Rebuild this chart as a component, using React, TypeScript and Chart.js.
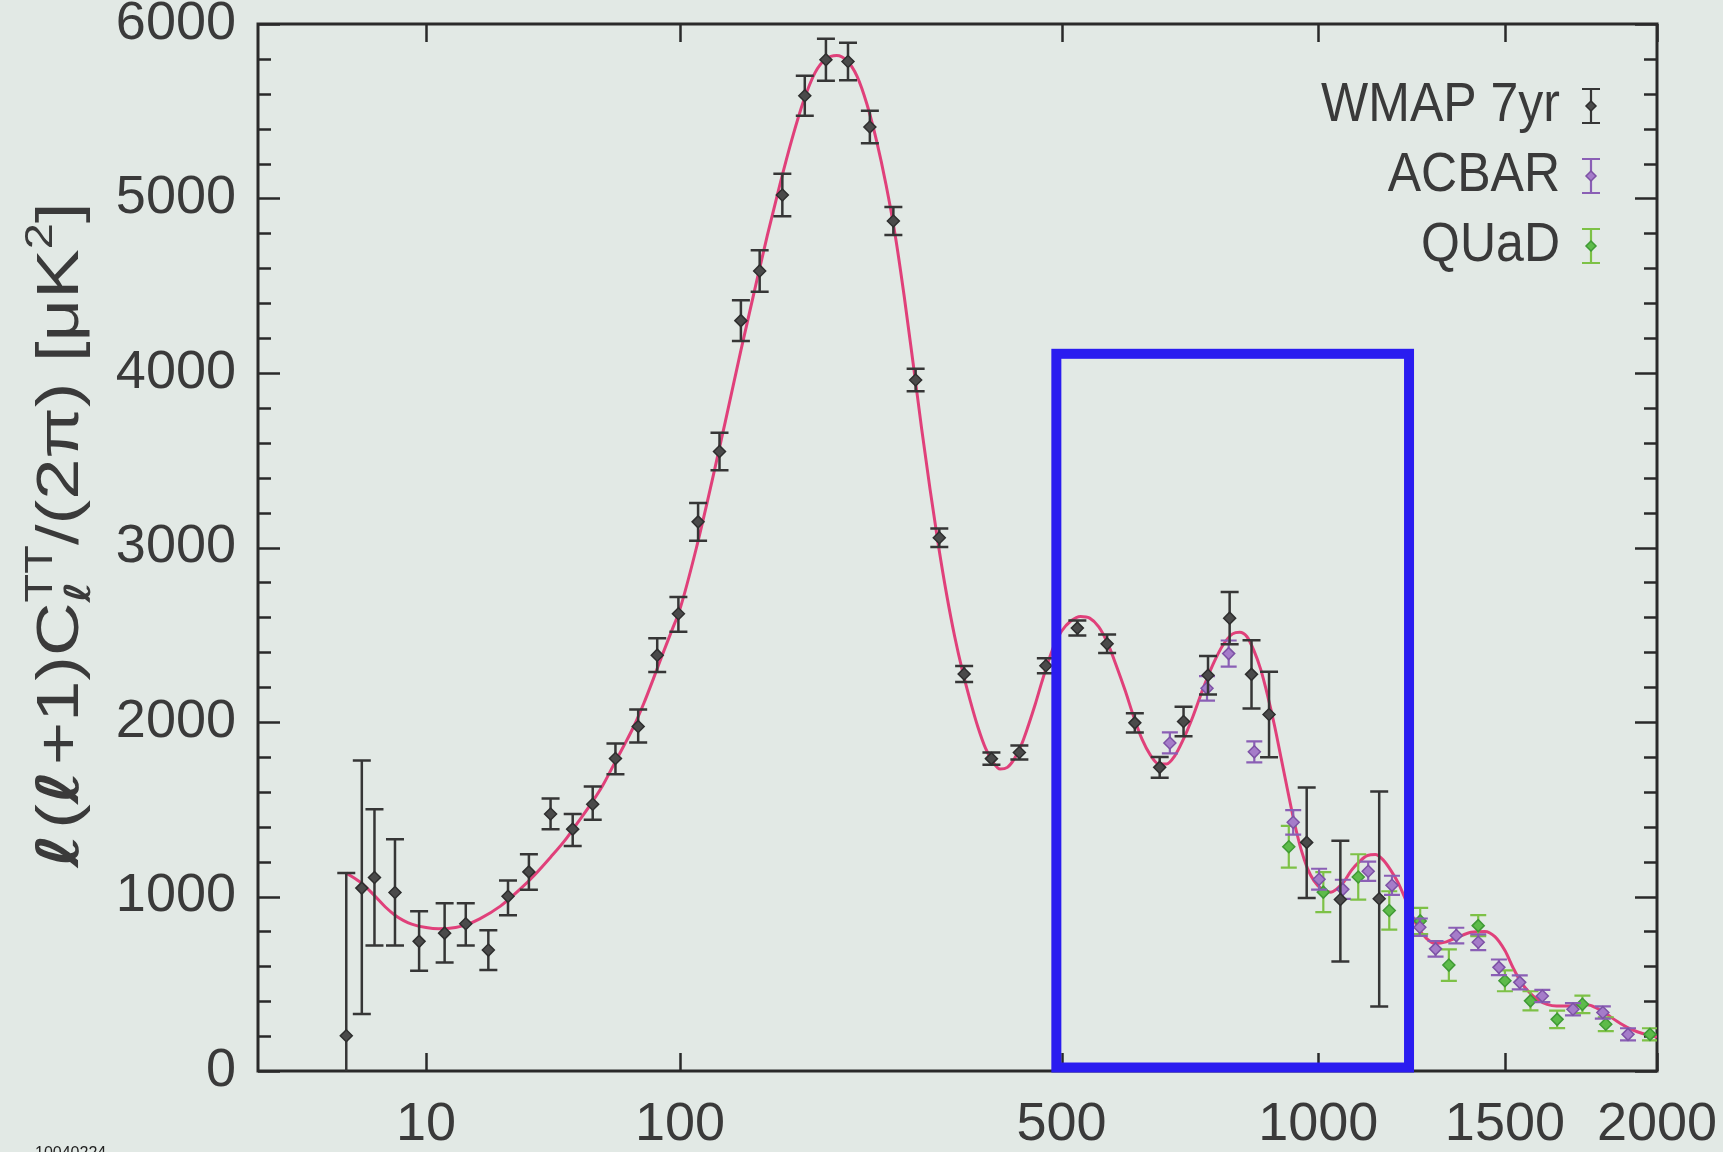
import React, { useEffect, useRef } from 'react';
import { Chart, registerables, LinearScale } from 'chart.js';

Chart.register(...registerables);

// ---------------- data ----------------
const xTickValues = [10, 100, 500, 1000, 1500, 2000];
const yTickValues = [0, 1000, 2000, 3000, 4000, 5000, 6000];
const yMinorStep = 200;

// WMAP 7yr binned points: multipole, D_l, error below, error above
const wmapL = [2, 3, 4, 6, 9, 13, 17, 22, 27, 33, 40, 48, 56, 66, 77, 87, 99, 111, 125, 140, 154, 172, 191, 210, 231, 253, 278, 303, 331, 362, 398, 437, 476, 525, 574, 622, 667, 712, 760, 804, 850, 888, 973, 1053, 1150];
const wmapD = [202, 1048, 1109, 1023, 743, 790, 844, 693, 1001, 1141, 1473, 1386, 1529, 1791, 1974, 2383, 2620, 3147, 3550, 4300, 4585, 5020, 5589, 5795, 5785, 5410, 4871, 3960, 3056, 2275, 1790, 1825, 2322, 2538, 2448, 1995, 1740, 2003, 2268, 2595, 2273, 2043, 1310, 983, 987];
const wmapErrHi = [933, 732, 391, 305, 172, 172, 118, 114, 90, 101, 88, 87, 101, 86, 97, 97, 97, 108, 108, 117, 119, 122, 115, 120, 108, 93, 80, 65, 53, 46, 35, 40, 43, 43, 53, 55, 60, 84, 110, 150, 195, 245, 315, 337, 615];
const wmapErrLo = [400, 721, 390, 304, 168, 168, 125, 114, 108, 103, 87, 96, 89, 90, 92, 97, 103, 108, 108, 117, 119, 122, 115, 120, 108, 93, 80, 65, 53, 46, 35, 40, 43, 43, 53, 55, 60, 84, 110, 150, 195, 245, 319, 355, 617];

// ACBAR
const acbarL = [686, 758, 802, 856, 942, 1002, 1059, 1122, 1183, 1257, 1300, 1358, 1421, 1482, 1545, 1615, 1713, 1812, 1898];
const acbarD = [1880, 2193, 2392, 1829, 1425, 1099, 1041, 1145, 1064, 824, 700, 776, 738, 594, 508, 430, 354, 335, 210];
const acbarErr = [60, 70, 75, 60, 70, 60, 55, 55, 55, 50, 45, 45, 45, 45, 40, 35, 35, 35, 35];

// QUaD
const quadL = [932, 1012, 1097, 1176, 1258, 1337, 1421, 1500, 1578, 1662, 1744, 1822, 1975];
const quadD = [1285, 1025, 1112, 920, 860, 607, 833, 517, 402, 296, 382, 268, 210];
const quadErr = [120, 115, 130, 110, 75, 90, 60, 60, 55, 50, 50, 40, 35];

// best-fit model curve
const theoryL = [2, 3, 4, 5, 6, 7, 8, 10, 12, 15, 17, 20, 25, 30, 35, 40, 45, 50, 55, 60, 65, 70, 75, 80, 85, 90, 95, 100, 110, 120, 130, 140, 150, 160, 170, 180, 190, 200, 210, 220, 230, 240, 250, 260, 270, 280, 290, 300, 310, 320, 330, 340, 350, 360, 370, 380, 390, 400, 410, 420, 430, 440, 450, 460, 470, 480, 490, 500, 515, 530, 545, 560, 575, 590, 605, 620, 635, 650, 665, 680, 695, 710, 730, 750, 770, 790, 810, 825, 840, 855, 870, 885, 900, 915, 930, 945, 960, 975, 990, 1010, 1030, 1060, 1080, 1100, 1120, 1140, 1160, 1180, 1200, 1225, 1250, 1275, 1300, 1330, 1360, 1400, 1440, 1470, 1500, 1525, 1550, 1575, 1600, 1630, 1660, 1690, 1720, 1760, 1790, 1825, 1860, 1895, 1930, 1970, 2000];
const theoryD = [1135, 1075, 1005, 940, 893, 862, 842, 822, 815, 822, 837, 872, 945, 1035, 1128, 1225, 1320, 1425, 1525, 1630, 1750, 1865, 1980, 2110, 2250, 2390, 2520, 2650, 3000, 3380, 3760, 4130, 4470, 4790, 5080, 5340, 5560, 5720, 5800, 5820, 5790, 5700, 5540, 5330, 5080, 4790, 4440, 4060, 3680, 3330, 3010, 2730, 2490, 2290, 2120, 1970, 1850, 1770, 1730, 1740, 1790, 1870, 1980, 2100, 2230, 2350, 2450, 2520, 2580, 2605, 2595, 2545, 2450, 2320, 2180, 2030, 1900, 1810, 1760, 1760, 1805, 1890, 2030, 2190, 2330, 2440, 2505, 2515, 2490, 2410, 2300, 2150, 1980, 1790, 1600, 1420, 1270, 1160, 1090, 1040, 1025, 1080, 1150, 1200, 1235, 1240, 1210, 1150, 1075, 950, 830, 760, 730, 740, 765, 795, 800, 770, 690, 590, 505, 450, 410, 382, 372, 372, 376, 380, 362, 325, 285, 250, 225, 205, 195];

// highlighted region (multipole range, D_l range)
const boxL = [492, 1228];
const boxD = [20, 4110];

const legendLabels = ['WMAP 7yr', 'ACBAR', 'QUaD'];
const footnote = '10040224';

// ---------------- styles ----------------
const W = 1723;
const H = 1152;
const X_POWER = 0.4;
const BG = '#e2e9e5';
const TEXT = '#3a3a3a';
const AXIS = '#2a2a2a';
const CURVE = '#e0407a';
const BOX = '#2a1cf0';
const WMAP_C = { fill: '#4a4a4a', border: '#2e2e2e', bar: '#363636' };
const ACBAR_C = { fill: '#a57cc9', border: '#7d52a5', bar: '#8a5fb5' };
const QUAD_C = { fill: '#5dbb4a', border: '#3f9a35', bar: '#7dc146' };
const FONT = '"Liberation Sans", Arial, Helvetica, sans-serif';

// power-law (l^0.4) axis
class PowerScale extends LinearScale {
  static id = 'power';
  static defaults = {};
  _pw(v: number) {
    return Math.pow(Math.max(v, 0), X_POWER);
  }
  getPixelForValue(value: number) {
    if (value === null || value === undefined || isNaN(value)) return NaN;
    const a = this._pw(this.min);
    const b = this._pw(this.max);
    return this.getPixelForDecimal((this._pw(value) - a) / (b - a));
  }
  getValueForPixel(pixel: number) {
    const a = this._pw(this.min);
    const b = this._pw(this.max);
    const d = this.getDecimalForPixel(pixel);
    return Math.pow(a + d * (b - a), 1 / X_POWER);
  }
}
Chart.register(PowerScale as any);

function pts(xs: number[], ys: number[]) {
  return xs.map((x, i) => ({ x, y: ys[i] }));
}

function diamond(ctx: CanvasRenderingContext2D, x: number, y: number, r: number, fill: string, stroke: string) {
  ctx.beginPath();
  ctx.moveTo(x, y - r);
  ctx.lineTo(x + r, y);
  ctx.lineTo(x, y + r);
  ctx.lineTo(x - r, y);
  ctx.closePath();
  ctx.fillStyle = fill;
  ctx.fill();
  ctx.lineWidth = 1.5;
  ctx.strokeStyle = stroke;
  ctx.stroke();
}

function drawYTitle(ctx: CanvasRenderingContext2D, cx: number, cy: number, length: number) {
  const main = `60px ${FONT}`;
  const small = `38px ${FONT}`;
  const ell = 'bold italic 58px "DejaVu Sans", sans-serif';
  const smallEll = 'bold italic 36px "DejaVu Sans", sans-serif';
  const segs = [
    { t: '\u2113', f: ell, dy: 0, stack: false },
    { t: '(', f: main, dy: 0, stack: false },
    { t: '\u2113', f: ell, dy: 0, stack: false },
    { t: '+1)C', f: main, dy: 0, stack: false },
    { t: '\u2113', f: smallEll, dy: 12, stack: true },
    { t: 'TT', f: small, dy: -26, stack: false },
    { t: '/(2\u03c0) [\u03bcK', f: main, dy: 0, stack: false },
    { t: '2', f: small, dy: -26, stack: false },
    { t: ']', f: main, dy: 0, stack: false },
  ];
  let total = 0;
  let pending = 0;
  const widths: number[] = [];
  segs.forEach((s) => {
    ctx.font = s.f;
    const w = ctx.measureText(s.t).width + (s.f === ell ? 4 : 0);
    widths.push(w);
    if (s.stack) {
      pending = w;
    } else {
      total += Math.max(w, pending);
      pending = 0;
    }
  });
  ctx.save();
  ctx.translate(cx, cy);
  ctx.rotate(-Math.PI / 2);
  ctx.scale(length / total, 1);
  ctx.fillStyle = TEXT;
  ctx.textBaseline = 'alphabetic';
  ctx.textAlign = 'left';
  let x = -total / 2;
  pending = 0;
  segs.forEach((s, i) => {
    ctx.font = s.f;
    ctx.fillText(s.t, x, s.dy);
    if (s.stack) {
      pending = widths[i];
    } else {
      x += Math.max(widths[i], pending);
      pending = 0;
    }
  });
  ctx.restore();
}

const decorPlugin = {
  id: 'decor',
  beforeDraw(chart: any) {
    const ctx = chart.ctx;
    ctx.save();
    ctx.fillStyle = BG;
    ctx.fillRect(0, 0, chart.width, chart.height);
    ctx.restore();
  },
  beforeDatasetsDraw(chart: any) {
    const { ctx, chartArea: a, scales } = chart;
    const xs = scales.x;
    const ys = scales.y;
    ctx.save();
    ctx.strokeStyle = AXIS;
    ctx.lineWidth = 2.5;
    ctx.lineCap = 'butt';
    // y ticks (major + minor), both sides, pointing inward
    for (let v = ys.min; v <= ys.max + 1e-6; v += yMinorStep) {
      const y = Math.round(ys.getPixelForValue(v)) + 0.5;
      const len = yTickValues.includes(v) ? 22 : 13;
      ctx.beginPath();
      ctx.moveTo(a.left, y);
      ctx.lineTo(a.left + len, y);
      ctx.moveTo(a.right, y);
      ctx.lineTo(a.right - len, y);
      ctx.stroke();
    }
    // x ticks, top and bottom
    xTickValues.forEach((v) => {
      const x = Math.round(xs.getPixelForValue(v)) + 0.5;
      ctx.beginPath();
      ctx.moveTo(x, a.bottom);
      ctx.lineTo(x, a.bottom - 18);
      ctx.moveTo(x, a.top);
      ctx.lineTo(x, a.top + 18);
      ctx.stroke();
    });
    // frame
    ctx.lineWidth = 3;
    ctx.strokeRect(a.left, a.top, a.right - a.left, a.bottom - a.top);
    ctx.restore();
  },
  beforeDatasetDraw(chart: any, args: any) {
    const ds: any = chart.data.datasets[args.index];
    if (!ds.errHi) return;
    const { ctx, chartArea: a } = chart;
    const ys = chart.scales.y;
    ctx.save();
    ctx.beginPath();
    ctx.rect(a.left, a.top, a.right - a.left, a.bottom - a.top);
    ctx.clip();
    ctx.strokeStyle = ds.errColor;
    ctx.lineWidth = ds.errWidth;
    ctx.lineCap = 'butt';
    args.meta.data.forEach((el: any, i: number) => {
      const v = ds.data[i].y;
      const yT = ys.getPixelForValue(v + ds.errHi[i]);
      const yB = ys.getPixelForValue(v - ds.errLo[i]);
      const x = el.x;
      const c = ds.capHalf;
      ctx.beginPath();
      ctx.moveTo(x, yT);
      ctx.lineTo(x, yB);
      ctx.moveTo(x - c, yT);
      ctx.lineTo(x + c, yT);
      ctx.moveTo(x - c, yB);
      ctx.lineTo(x + c, yB);
      ctx.stroke();
    });
    ctx.restore();
  },
  afterDatasetsDraw(chart: any) {
    const { ctx, scales } = chart;
    const xs = scales.x;
    const ys = scales.y;
    const x0 = xs.getPixelForValue(boxL[0]);
    const x1 = xs.getPixelForValue(boxL[1]);
    const y0 = ys.getPixelForValue(boxD[1]);
    const y1 = ys.getPixelForValue(boxD[0]);
    ctx.save();
    ctx.strokeStyle = BOX;
    ctx.lineWidth = 10;
    ctx.lineJoin = 'miter';
    ctx.strokeRect(x0, y0, x1 - x0, y1 - y0);
    ctx.restore();
  },
  afterDraw(chart: any) {
    const { ctx, chartArea: a } = chart;
    // legend
    const rows = [a.top + 82, a.top + 152, a.top + 222];
    const colors = [WMAP_C, ACBAR_C, QUAD_C];
    legendLabels.forEach((lab, i) => {
      const y = rows[i];
      ctx.save();
      ctx.translate(a.right - 97, y);
      ctx.scale(1, 1.12);
      ctx.font = `50px ${FONT}`;
      ctx.fillStyle = TEXT;
      ctx.textAlign = 'right';
      ctx.textBaseline = 'middle';
      ctx.fillText(lab, 0, 0);
      ctx.restore();
      const sx = a.right - 66;
      const c = colors[i];
      ctx.save();
      ctx.strokeStyle = c.bar;
      ctx.lineWidth = 2.2;
      ctx.beginPath();
      ctx.moveTo(sx, y - 17);
      ctx.lineTo(sx, y + 17);
      ctx.moveTo(sx - 9, y - 17);
      ctx.lineTo(sx + 9, y - 17);
      ctx.moveTo(sx - 9, y + 17);
      ctx.lineTo(sx + 9, y + 17);
      ctx.stroke();
      diamond(ctx, sx, y, 5, c.fill, c.border);
      ctx.restore();
    });
    // y-axis title
    drawYTitle(ctx, 78, 535, 665);
    // footnote
    ctx.save();
    ctx.font = `16px ${FONT}`;
    ctx.fillStyle = '#222';
    ctx.textBaseline = 'top';
    ctx.textAlign = 'left';
    ctx.fillText(footnote, 35, 1146);
    ctx.restore();
  },
};

export default function App() {
  const ref = useRef<HTMLCanvasElement>(null);
  useEffect(() => {
    const canvas = ref.current;
    if (!canvas) return;
    const pointDs = (label: string, xs: number[], ys: number[], lo: number[], hi: number[], c: any, capHalf: number, errWidth: number) => ({
      type: 'scatter' as const,
      label,
      data: pts(xs, ys),
      showLine: false,
      pointStyle: 'rectRot',
      pointRadius: 6,
      pointBorderWidth: 1.5,
      pointBackgroundColor: c.fill,
      pointBorderColor: c.border,
      backgroundColor: c.fill,
      borderColor: c.border,
      errLo: lo,
      errHi: hi,
      errColor: c.bar,
      errWidth,
      capHalf,
    });
    const chart = new Chart(canvas, {
      type: 'scatter',
      data: {
        datasets: [
          pointDs('WMAP 7yr', wmapL, wmapD, wmapErrLo, wmapErrHi, WMAP_C, 9, 2.5),
          pointDs('ACBAR', acbarL, acbarD, acbarErr, acbarErr, ACBAR_C, 8, 2.2),
          pointDs('QUaD', quadL, quadD, quadErr, quadErr, QUAD_C, 8, 2.2),
          {
            type: 'line' as const,
            label: 'model',
            data: pts(theoryL, theoryD),
            borderColor: CURVE,
            borderWidth: 3,
            pointRadius: 0,
            fill: false,
            cubicInterpolationMode: 'monotone',
          } as any,
        ],
      },
      options: {
        responsive: false,
        animation: false,
        devicePixelRatio: 1,
        events: [],
        layout: { padding: { top: 24, right: 66, bottom: 0, left: 0 } },
        plugins: {
          legend: { display: false },
          tooltip: { enabled: false },
          title: { display: false },
        },
        scales: {
          x: {
            type: 'power' as any,
            min: 0,
            max: 2000,
            afterBuildTicks: (s: any) => {
              s.ticks = xTickValues.map((v) => ({ value: v }));
            },
            afterFit: (s: any) => {
              s.height = 81;
              s.paddingLeft = 0;
              s.paddingRight = 0;
            },
            grid: { display: false, drawTicks: false },
            border: { display: false },
            ticks: {
              autoSkip: false,
              maxRotation: 0,
              minRotation: 0,
              padding: 22,
              color: TEXT,
              font: { family: FONT, size: 54 },
              callback: (v: any) => String(v),
            },
          },
          y: {
            type: 'linear',
            min: 0,
            max: 6000,
            afterBuildTicks: (s: any) => {
              s.ticks = yTickValues.map((v) => ({ value: v }));
            },
            afterFit: (s: any) => {
              s.width = 258;
              s.paddingTop = 0;
              s.paddingBottom = 0;
            },
            grid: { display: false, drawTicks: false },
            border: { display: false },
            ticks: {
              padding: 22,
              color: TEXT,
              font: { family: FONT, size: 54 },
              callback: (v: any) => String(v),
            },
          },
        },
      } as any,
      plugins: [decorPlugin as any],
    });
    return () => chart.destroy();
  }, []);
  return (
    <div style={{ position: 'fixed', left: 0, top: 0, width: W, height: H, background: BG, overflow: 'hidden' }}>
      <canvas ref={ref} width={W} height={H} style={{ display: 'block', width: W, height: H }} />
    </div>
  );
}
